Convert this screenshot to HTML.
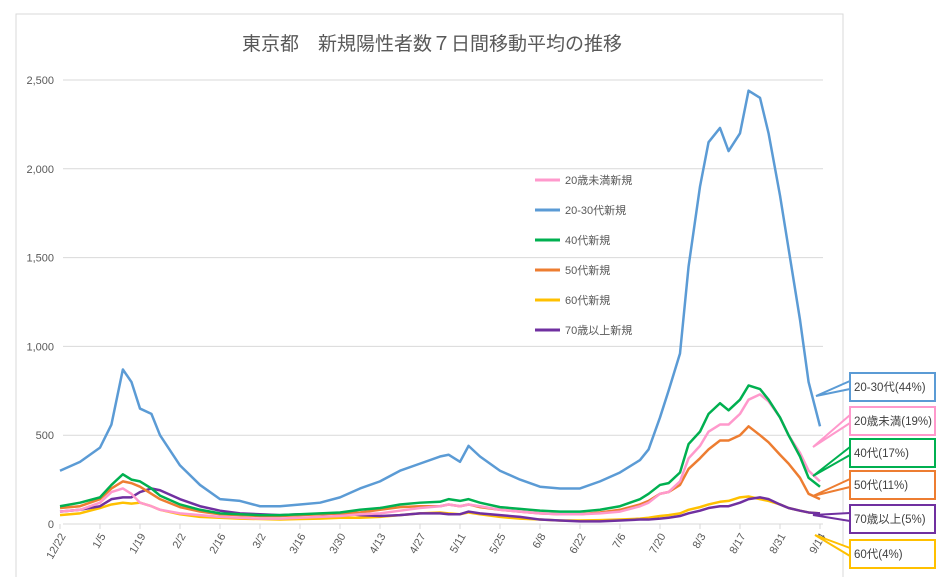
<!DOCTYPE html>
<html><head><meta charset="utf-8"><style>
body{margin:0;background:#fff;}
svg{display:block;font-family:"Liberation Sans","Noto Sans CJK JP",sans-serif;}
</style></head><body>
<svg id="c" width="944" height="577">
<rect x="16" y="14" width="827" height="570" fill="#fff" stroke="#d9d9d9"/>
<text x="432" y="50" text-anchor="middle" font-size="19" fill="#595959">東京都　新規陽性者数７日間移動平均の推移</text>
<g id="grid"></g><g id="series"></g><g id="legend"></g><g id="callouts"></g>
</svg>
<script>
const days=[0,7,14,18,22,25,28,32,35,42,49,56,63,70,77,84,91,98,105,112,119,126,133,136,140,143,147,154,161,168,175,182,189,196,203,206,210,213,217,220,224,227,231,234,238,241,245,248,252,255,259,262,266];
const xLabels=["12/22","1/5","1/19","2/2","2/16","3/2","3/16","3/30","4/13","4/27","5/11","5/25","6/8","6/22","7/6","7/20","8/3","8/17","8/31","9/14"];
const yTicks=[0,500,1000,1500,2000,2500];
const s20to30=[300,350,430,560,870,800,650,620,500,330,220,140,130,100,100,110,120,150,200,240,300,340,380,390,350,440,380,300,250,210,200,200,240,290,360,420,600,750,960,1450,1900,2150,2230,2100,2200,2440,2400,2200,1850,1550,1150,800,550];
const s40=[100,120,150,220,280,250,240,200,160,110,80,60,55,50,50,55,60,65,80,90,110,120,125,140,130,140,120,95,85,75,70,70,80,100,140,170,220,230,290,450,520,620,680,640,700,780,760,700,600,500,380,260,210];
const sU20=[70,80,120,180,200,170,120,100,80,60,50,40,35,30,30,35,40,45,55,60,75,90,100,110,100,110,100,80,70,60,55,55,60,70,100,120,170,180,240,370,440,520,560,560,620,700,730,690,600,500,400,300,240];
const s50=[90,100,140,200,240,230,210,170,140,95,70,55,50,45,45,50,55,60,65,80,95,100,100,110,100,110,95,80,70,60,55,55,65,80,110,130,170,180,220,310,370,420,470,470,500,550,500,460,390,340,260,170,140];
const s60=[50,60,90,110,120,115,120,100,80,55,40,35,30,28,25,28,30,35,35,40,50,60,65,60,55,65,55,40,30,25,20,20,22,25,30,35,45,50,60,80,95,110,125,130,150,155,140,130,110,90,75,65,60];
const s70=[70,80,100,140,150,150,180,200,190,140,100,75,60,55,50,55,55,60,50,45,50,60,60,55,55,70,60,50,40,25,20,15,15,20,25,25,30,35,45,60,75,90,100,100,120,140,150,140,110,90,75,65,60];
const seriesNames=["20歳未満新規","20-30代新規","40代新規","50代新規","60代新規","70歳以上新規"];
const calloutLabels=["20-30代(44%)","20歳未満(19%)","40代(17%)","50代(11%)","70歳以上(5%)","60代(4%)"];
const NS="http://www.w3.org/2000/svg";
const X0=60,X1=820,Y0=524,Y1=80,DMAX=266,VMAX=2500;
const xs=d=>X0+(X1-X0)*d/DMAX;
const ys=v=>Y0-(Y0-Y1)*v/VMAX;
function mk(t,a,p){const e=document.createElementNS(NS,t);for(const k in a)e.setAttribute(k,a[k]);p.appendChild(e);return e;}
const grid=document.getElementById('grid');
yTicks.forEach(v=>{
 const l=mk('line',{x1:63,x2:823,y1:ys(v),y2:ys(v),stroke:'#d9d9d9','stroke-width':1},grid);
 
 
 const t=mk('text',{x:54,y:ys(v)+4,'text-anchor':'end','font-size':11,fill:'#595959'},grid);
 t.textContent=v.toLocaleString('en-US');
 
 
});
xLabels.forEach((lab,i)=>{
 const x=xs(i*14);
 const tk=mk('line',{x1:x,x2:x,y1:Y0,y2:Y0+5,stroke:'#d9d9d9'},grid);
 
 
 const t=mk('text',{x:x+6,y:Y0+12,'text-anchor':'end','font-size':11,fill:'#595959',transform:`rotate(-60 ${x+6} ${Y0+12})`},grid);
 t.textContent=lab;
 
 
});
const order=[[s60,'#ffc000','series-60s'],[s70,'#7030a0','series-70plus'],[s50,'#ed7d31','series-50s'],[sU20,'#ff99cc','series-under20'],[s40,'#00b050','series-40s'],[s20to30,'#5b9bd5','series-20-30s']];
const sg=document.getElementById('series');
order.forEach(([arr,c,n])=>{
 const p=mk('polyline',{points:arr.map((v,i)=>xs(days[i])+','+ys(v)).join(' '),fill:'none',stroke:c,'stroke-width':2.5,'stroke-linejoin':'round'},sg);
 
 
});
const lcols=['#ff99cc','#5b9bd5','#00b050','#ed7d31','#ffc000','#7030a0'];
const lg=document.getElementById('legend');
seriesNames.forEach((n,i)=>{
 const y=180+i*30;
 const l=mk('line',{x1:535,x2:560,y1:y,y2:y,stroke:lcols[i],'stroke-width':3},lg);
 
 
 const t=mk('text',{x:565,y:y+4,'font-size':11,fill:'#595959'},lg);
 t.textContent=n;
 
 
});
const ccols=['#5b9bd5','#ff99cc','#00b050','#ed7d31','#7030a0','#ffc000'];
const boxY=[373,407,439,471,505,540];
const tips=[[816,396],[813,447],[813,476],[813,496],[813,515],[815,535]];
const cg=document.getElementById('callouts');
calloutLabels.forEach((lab,i)=>{
 const y=boxY[i],c=ccols[i],[tx,ty]=tips[i];
 const pth=mk('path',{d:`M850 ${y+8} L${tx} ${ty} L850 ${y+16}`,fill:'#fff',stroke:c,'stroke-width':2},cg);
 
 
 const r=mk('rect',{x:850,y:y,width:85,height:28,fill:'#fff',stroke:c,'stroke-width':2},cg);
 
 
 const t=mk('text',{x:854,y:y+18,'font-size':11.5,fill:'#404040'},cg);
 t.textContent=lab;
 
 
});
</script>
</body></html>
